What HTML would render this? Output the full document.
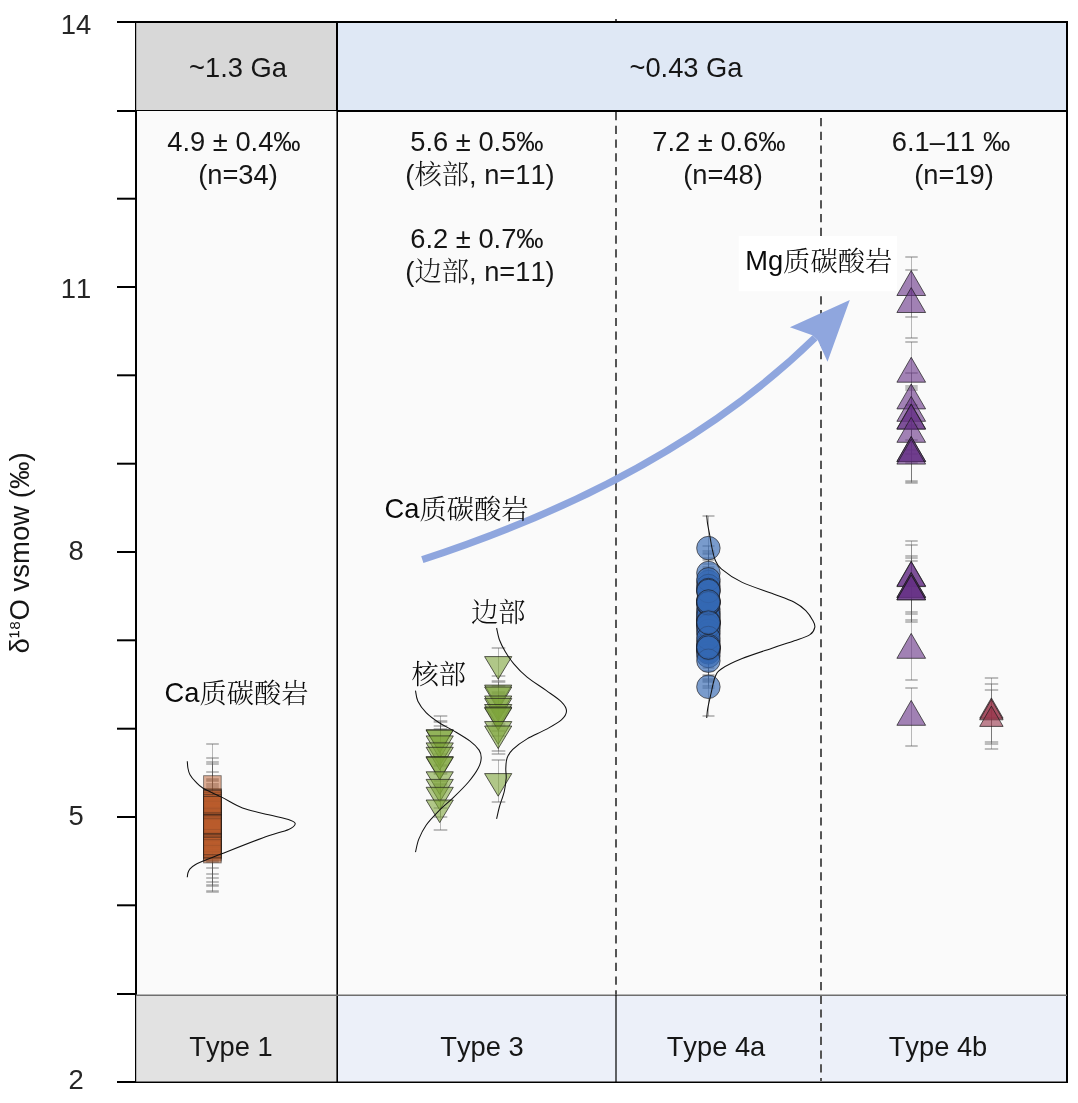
<!DOCTYPE html>
<html lang="zh"><head><meta charset="utf-8"><title>δ18O vsmow</title>
<style>
html,body{margin:0;padding:0;background:#fff;}
body{width:1078px;height:1103px;overflow:hidden;position:relative;}
svg{position:absolute;left:0;top:0;display:block;}
text{font-family:"Liberation Sans","Noto Serif CJK SC",sans-serif;font-kerning:none;}
.cj{font-family:"Noto Serif CJK SC","Liberation Serif",serif;font-weight:300;}
.tk{font-size:27.4px;fill:#262626;}
.lb{font-size:27.3px;fill:#161616;}
.an{font-size:27.3px;fill:#0a0a0a;}
</style></head><body>
<svg width="1078" height="1103" viewBox="0 0 1078 1103">
<rect x="0" y="0" width="1078" height="1103" fill="#ffffff"/>
<rect x="136" y="111" width="931" height="884" fill="#fafafa"/>
<rect x="136" y="22" width="201" height="88.5" fill="#d8d8d8"/>
<rect x="337" y="22" width="730" height="88.5" fill="#dfe8f5"/>
<rect x="136" y="995.5" width="201" height="86" fill="#e2e2e2"/>
<rect x="337" y="995.5" width="730" height="86" fill="#ecf0f9"/>
<g id="dashes" stroke="#555" stroke-width="2" fill="none">
<line x1="616" y1="18.9" x2="616" y2="995" stroke-dasharray="8.2 5.52" stroke-dashoffset="2.86"/>
<line x1="821" y1="118" x2="821" y2="1081" stroke-dasharray="8.2 5.514"/>
</g>
<rect x="337" y="22" width="730" height="88.5" fill="#dfe8f5"/>
<g id="frame" stroke="#000" fill="none">
<line x1="117" y1="22" x2="1068" y2="22" stroke-width="2"/>
<line x1="1067" y1="21" x2="1067" y2="1083" stroke-width="2"/>
<line x1="136" y1="111" x2="136" y2="995" stroke-width="2"/>
<line x1="135.6" y1="22" x2="135.6" y2="111" stroke-width="1.2"/>
<line x1="135.6" y1="995" x2="135.6" y2="1082" stroke-width="1.2"/>
<line x1="337" y1="22" x2="337" y2="111" stroke-width="2"/>
<line x1="337.2" y1="111" x2="337.2" y2="1082" stroke-width="1.6"/>
<line x1="136" y1="110.5" x2="337" y2="110.5" stroke-width="1"/>
<line x1="337" y1="111" x2="1068" y2="111" stroke-width="2"/>
<line x1="136" y1="995.3" x2="1067" y2="995.3" stroke-width="1.5" stroke="#6e6e6e"/>
<line x1="616" y1="995" x2="616" y2="1082" stroke-width="1.2"/>
<line x1="136" y1="1082.2" x2="1068" y2="1082.2" stroke-width="1.6"/>
</g>
<g id="ticks" stroke="#000" stroke-width="2">
<line x1="117" y1="1082" x2="136" y2="1082"/>
<line x1="117" y1="994" x2="136" y2="994"/>
<line x1="117" y1="905.3" x2="136" y2="905.3"/>
<line x1="117" y1="817.0" x2="136" y2="817.0"/>
<line x1="117" y1="728.7" x2="136" y2="728.7"/>
<line x1="117" y1="640.3" x2="136" y2="640.3"/>
<line x1="117" y1="552.0" x2="136" y2="552.0"/>
<line x1="117" y1="463.7" x2="136" y2="463.7"/>
<line x1="117" y1="375.3" x2="136" y2="375.3"/>
<line x1="117" y1="287.0" x2="136" y2="287.0"/>
<line x1="117" y1="198.7" x2="136" y2="198.7"/>
<line x1="117" y1="111" x2="136" y2="111"/>
<line x1="117" y1="22" x2="136" y2="22"/>
</g>
<g id="ticklabels" class="tk" text-anchor="middle">
<text x="76.1" y="33.9">14</text>
<text x="76.1" y="297.7">11</text>
<text x="76.1" y="560.4">8</text>
<text x="76.1" y="825.4">5</text>
<text x="76.1" y="1089">2</text>
</g>
<text class="lb" style="font-size:27.5px" text-anchor="middle" transform="translate(28.5,553) rotate(-90)">δ<tspan style="font-size:23.6px" dy="-2.7">¹⁸</tspan><tspan dy="2.7">O vsmow (‰)</tspan></text>
<g class="lb" text-anchor="middle">
<text x="238" y="76.8">~1.3 Ga</text>
<text x="686" y="76.8">~0.43 Ga</text>
<text x="231" y="1056.3">Type 1</text>
<text x="482" y="1056.3">Type 3</text>
<text x="716" y="1056.3">Type 4a</text>
<text x="938" y="1056.3">Type 4b</text>
<text x="234" y="151.4">4.9 ± 0.4‰</text>
<text x="238" y="183.8">(n=34)</text>
<text x="477" y="151.4">5.6 ± 0.5‰</text>
<text x="480" y="183.8">(<tspan class="cj">核部</tspan>, n=11)</text>
<text x="477" y="248.2">6.2 ± 0.7‰</text>
<text x="480" y="280.6">(<tspan class="cj">边部</tspan>, n=11)</text>
<text x="719" y="151.4">7.2 ± 0.6‰</text>
<text x="723" y="183.8">(n=48)</text>
<text x="951" y="151.4">6.1–11 ‰</text>
<text x="954" y="183.8">(n=19)</text>
</g>
<rect x="738.7" y="236" width="158.3" height="55.2" fill="#ffffff"/>
<g id="type1">
<g stroke="#5a5a5a" fill="none">
<path d="M212.5,744V824M212.5,758V836M212.5,762V835M212.5,764V834M212.5,764V838M212.5,772V834M212.5,779V831M212.5,781V832M212.5,784V833M212.5,780V840M212.5,784V840M212.5,786V840M212.5,786V846M212.5,788V850M212.5,793V851M212.5,795V851M212.5,795V855M212.5,795V857M212.5,798V856M212.5,798V858M212.5,796V860M212.5,798V860M212.5,801V861M212.5,804V862M212.5,802V868M212.5,808V868M212.5,807V874M212.5,812V874M212.5,814V878M212.5,816V882M212.5,814V885M212.5,814V886M212.5,813V891M212.5,816V892" stroke-width="1" stroke-opacity="0.42"/>
<path d="M206.2,744H218.8M206.2,824H218.8M206.2,758H218.8M206.2,836H218.8M206.2,762H218.8M206.2,835H218.8M206.2,764H218.8M206.2,834H218.8M206.2,764H218.8M206.2,838H218.8M206.2,772H218.8M206.2,834H218.8M206.2,779H218.8M206.2,831H218.8M206.2,781H218.8M206.2,832H218.8M206.2,784H218.8M206.2,833H218.8M206.2,780H218.8M206.2,840H218.8M206.2,784H218.8M206.2,840H218.8M206.2,786H218.8M206.2,840H218.8M206.2,786H218.8M206.2,846H218.8M206.2,788H218.8M206.2,850H218.8M206.2,793H218.8M206.2,851H218.8M206.2,795H218.8M206.2,851H218.8M206.2,795H218.8M206.2,855H218.8M206.2,795H218.8M206.2,857H218.8M206.2,798H218.8M206.2,856H218.8M206.2,798H218.8M206.2,858H218.8M206.2,796H218.8M206.2,860H218.8M206.2,798H218.8M206.2,860H218.8M206.2,801H218.8M206.2,861H218.8M206.2,804H218.8M206.2,862H218.8M206.2,802H218.8M206.2,868H218.8M206.2,808H218.8M206.2,868H218.8M206.2,807H218.8M206.2,874H218.8M206.2,812H218.8M206.2,874H218.8M206.2,814H218.8M206.2,878H218.8M206.2,816H218.8M206.2,882H218.8M206.2,814H218.8M206.2,885H218.8M206.2,814H218.8M206.2,886H218.8M206.2,813H218.8M206.2,891H218.8M206.2,816H218.8M206.2,892H218.8" stroke-width="1.5" stroke-opacity="0.50"/>
</g>
<g fill="#ba5b2c" fill-opacity="0.5" stroke="#1a1a1a" stroke-opacity="0.55" stroke-width="0.9">
<rect x="203.6" y="820.5" width="17.6" height="17.6"/>
<rect x="203.6" y="809.7" width="17.6" height="17.6"/>
<rect x="203.6" y="823.7" width="17.6" height="17.6"/>
<rect x="203.6" y="788.7" width="17.6" height="17.6"/>
<rect x="203.6" y="826.2" width="17.6" height="17.6"/>
<rect x="203.6" y="841.5" width="17.6" height="17.6"/>
<rect x="203.6" y="821.8" width="17.6" height="17.6"/>
<rect x="203.6" y="798.0" width="17.6" height="17.6"/>
<rect x="203.6" y="843.4" width="17.6" height="17.6"/>
<rect x="203.6" y="817.4" width="17.6" height="17.6"/>
<rect x="203.6" y="775.7" width="17.6" height="17.6"/>
<rect x="203.6" y="802.9" width="17.6" height="17.6"/>
<rect x="203.6" y="804.5" width="17.6" height="17.6"/>
<rect x="203.6" y="807.2" width="17.6" height="17.6"/>
<rect x="203.6" y="799.7" width="17.6" height="17.6"/>
<rect x="203.6" y="789.4" width="17.6" height="17.6"/>
<rect x="203.6" y="792.2" width="17.6" height="17.6"/>
<rect x="203.6" y="801.2" width="17.6" height="17.6"/>
<rect x="203.6" y="812.8" width="17.6" height="17.6"/>
<rect x="203.6" y="790.6" width="17.6" height="17.6"/>
<rect x="203.6" y="832.0" width="17.6" height="17.6"/>
<rect x="203.6" y="819.0" width="17.6" height="17.6"/>
<rect x="203.6" y="819.6" width="17.6" height="17.6"/>
<rect x="203.6" y="814.6" width="17.6" height="17.6"/>
<rect x="203.6" y="840.8" width="17.6" height="17.6"/>
<rect x="203.6" y="829.4" width="17.6" height="17.6"/>
<rect x="203.6" y="794.7" width="17.6" height="17.6"/>
<rect x="203.6" y="796.5" width="17.6" height="17.6"/>
<rect x="203.6" y="818.2" width="17.6" height="17.6"/>
<rect x="203.6" y="834.3" width="17.6" height="17.6"/>
<rect x="203.6" y="815.8" width="17.6" height="17.6"/>
<rect x="203.6" y="845.3" width="17.6" height="17.6"/>
<rect x="203.6" y="839.7" width="17.6" height="17.6"/>
<rect x="203.6" y="837.2" width="17.6" height="17.6"/>
</g>
<path d="M187.3,761.3 C187.4,762.4 187.5,765.8 187.9,768.0 C188.3,770.2 188.7,772.4 190.0,774.7 C191.3,777.0 193.3,779.4 195.5,781.7 C197.7,784.0 198.8,785.7 203.1,788.3 C207.4,790.9 215.0,793.8 221.6,797.1 C228.2,800.4 234.7,805.0 242.5,807.9 C250.3,810.8 260.7,812.8 268.7,814.8 C276.7,816.8 285.9,818.7 290.3,820.2 C294.7,821.7 295.5,822.5 295.2,824.0 C294.9,825.5 294.1,827.1 288.7,829.4 C283.2,831.7 273.7,833.8 262.5,837.9 C251.3,842.0 231.5,849.9 221.6,853.8 C211.7,857.7 207.5,859.3 203.1,861.1 C198.7,862.9 197.4,863.5 195.2,864.8 C193.0,866.1 191.2,867.4 190.0,868.8 C188.8,870.2 188.3,871.6 187.9,873.0 C187.5,874.4 187.4,876.5 187.3,877.2" fill="none" stroke="#111" stroke-width="1.05"/>
</g>
<g id="type3core">
<g stroke="#5a5a5a" fill="none">
<path d="M440.5,716V758M440.5,722V754M440.5,721V765M440.5,726V774M440.5,729V781M440.5,744V784M440.5,742V788M440.5,757V801M440.5,766V808M440.5,773V817M440.5,785V830" stroke-width="1" stroke-opacity="0.42"/>
<path d="M433.7,716H447.3M433.7,758H447.3M433.7,722H447.3M433.7,754H447.3M433.7,721H447.3M433.7,765H447.3M433.7,726H447.3M433.7,774H447.3M433.7,729H447.3M433.7,781H447.3M433.7,744H447.3M433.7,784H447.3M433.7,742H447.3M433.7,788H447.3M433.7,757H447.3M433.7,801H447.3M433.7,766H447.3M433.7,808H447.3M433.7,773H447.3M433.7,817H447.3M433.7,785H447.3M433.7,830H447.3" stroke-width="1.5" stroke-opacity="0.50"/>
</g>
<g fill="#7fa53c" fill-opacity="0.6" stroke="#20201a" stroke-opacity="0.72" stroke-width="1">
<path d="M426.1,729.8H453.3L439.7,752.4Z"/>
<path d="M426.1,730.1H453.3L439.7,752.7Z"/>
<path d="M426.1,735.9H453.3L439.7,758.5Z"/>
<path d="M426.1,742.9H453.3L439.7,765.5Z"/>
<path d="M426.1,747.3H453.3L439.7,769.9Z"/>
<path d="M426.1,756.6H453.3L439.7,779.2Z"/>
<path d="M426.1,757.3H453.3L439.7,779.9Z"/>
<path d="M426.1,771.8H453.3L439.7,794.4Z"/>
<path d="M426.1,779.4H453.3L439.7,802.0Z"/>
<path d="M426.1,787.3H453.3L439.7,809.9Z"/>
<path d="M426.1,800.0H453.3L439.7,822.6Z"/>
</g>
<path d="M415.5,690.6 C415.9,692.4 416.1,697.5 417.9,701.2 C419.7,704.9 422.6,709.0 426.1,712.6 C429.7,716.2 434.6,719.7 439.2,722.7 C443.8,725.8 448.6,727.8 453.8,730.9 C459.0,734.0 465.9,738.0 470.1,741.2 C474.3,744.4 477.2,747.3 479.1,750.1 C481.0,752.9 481.3,755.0 481.2,758.0 C481.1,761.0 480.4,764.1 478.3,768.1 C476.2,772.1 472.6,777.2 468.5,782.0 C464.4,786.8 458.7,792.4 453.8,797.1 C448.9,801.9 443.8,805.8 439.2,810.5 C434.6,815.2 429.5,820.4 426.1,825.2 C422.7,830.0 420.6,834.6 418.8,839.1 C417.0,843.6 416.1,849.9 415.5,852.1" fill="none" stroke="#111" stroke-width="1.05"/>
</g>
<g id="type3rim">
<g stroke="#5a5a5a" fill="none">
<path d="M498.5,648V681M498.5,676V710M498.5,682V706M498.5,682V724M498.5,686V726M498.5,693V731M498.5,692V736M498.5,694V736M498.5,707V751M498.5,712V754M498.5,760V802" stroke-width="1" stroke-opacity="0.42"/>
<path d="M491.7,648H505.3M491.7,681H505.3M491.7,676H505.3M491.7,710H505.3M491.7,682H505.3M491.7,706H505.3M491.7,682H505.3M491.7,724H505.3M491.7,686H505.3M491.7,726H505.3M491.7,693H505.3M491.7,731H505.3M491.7,692H505.3M491.7,736H505.3M491.7,694H505.3M491.7,736H505.3M491.7,707H505.3M491.7,751H505.3M491.7,712H505.3M491.7,754H505.3M491.7,760H505.3M491.7,802H505.3" stroke-width="1.5" stroke-opacity="0.50"/>
</g>
<g fill="#7fa53c" fill-opacity="0.6" stroke="#20201a" stroke-opacity="0.72" stroke-width="1">
<path d="M484.6,656.6H511.8L498.2,679.2Z"/>
<path d="M484.6,685.1H511.8L498.2,707.7Z"/>
<path d="M484.6,687.0H511.8L498.2,709.6Z"/>
<path d="M484.6,696.0H511.8L498.2,718.6Z"/>
<path d="M484.6,698.4H511.8L498.2,721.0Z"/>
<path d="M484.6,704.5H511.8L498.2,727.1Z"/>
<path d="M484.6,707.0H511.8L498.2,729.6Z"/>
<path d="M484.6,707.9H511.8L498.2,730.5Z"/>
<path d="M484.6,721.6H511.8L498.2,744.2Z"/>
<path d="M484.6,726.0H511.8L498.2,748.6Z"/>
<path d="M484.6,773.6H511.8L498.2,796.2Z"/>
</g>
<path d="M496.6,628.0 C497.1,630.0 498.1,636.1 499.5,640.0 C500.9,643.9 502.8,647.4 505.2,651.4 C507.6,655.4 510.1,659.5 513.8,663.8 C517.4,668.1 521.7,672.7 527.1,677.1 C532.5,681.5 540.4,686.3 546.1,690.4 C551.8,694.5 558.0,698.4 561.4,701.8 C564.8,705.2 566.5,708.0 566.5,711.0 C566.5,714.0 564.8,716.8 561.4,719.9 C558.0,723.0 551.8,726.2 546.1,729.4 C540.4,732.6 532.7,735.6 527.1,738.9 C521.5,742.2 516.1,746.2 512.8,749.4 C509.5,752.6 508.3,754.8 507.1,758.0 C505.9,761.2 506.0,765.1 505.8,768.4 C505.6,771.7 506.4,774.2 506.2,778.0 C505.9,781.8 505.4,786.5 504.3,791.3 C503.2,796.0 500.8,801.9 499.5,806.5 C498.2,811.1 497.1,816.8 496.6,818.9" fill="none" stroke="#111" stroke-width="1.05"/>
</g>
<g id="type4a">
<g stroke="#5a5a5a" fill="none">
<path d="M708.5,595V649M708.5,571V631M708.5,576V642M708.5,554V610M708.5,588V652M708.5,587V641M708.5,621V681M708.5,567V633M708.5,560V617M708.5,618V680M708.5,595V649M708.5,622V682M708.5,569V635M708.5,590V646M708.5,560V624M708.5,546V600M708.5,582V642M708.5,553V619M708.5,551V608M708.5,616V679M708.5,601V655M708.5,611V671M708.5,590V656M708.5,596V652M708.5,558V622M708.5,621V675M708.5,593V653M708.5,583V649M708.5,606V662M708.5,600V662M708.5,617V671M708.5,573V633M708.5,571V637M708.5,620V676M708.5,516V578M708.5,657V716M708.5,626V686M708.5,593V659M708.5,618V676M708.5,590V653M708.5,564V618M708.5,608V668M708.5,613V679M708.5,575V632M708.5,570V633M708.5,634V688M708.5,593V653M708.5,615V681" stroke-width="1" stroke-opacity="0.42"/>
<path d="M702.5,595H714.5M702.5,649H714.5M702.5,571H714.5M702.5,631H714.5M702.5,576H714.5M702.5,642H714.5M702.5,554H714.5M702.5,610H714.5M702.5,588H714.5M702.5,652H714.5M702.5,587H714.5M702.5,641H714.5M702.5,621H714.5M702.5,681H714.5M702.5,567H714.5M702.5,633H714.5M702.5,560H714.5M702.5,617H714.5M702.5,618H714.5M702.5,680H714.5M702.5,595H714.5M702.5,649H714.5M702.5,622H714.5M702.5,682H714.5M702.5,569H714.5M702.5,635H714.5M702.5,590H714.5M702.5,646H714.5M702.5,560H714.5M702.5,624H714.5M702.5,546H714.5M702.5,600H714.5M702.5,582H714.5M702.5,642H714.5M702.5,553H714.5M702.5,619H714.5M702.5,551H714.5M702.5,608H714.5M702.5,616H714.5M702.5,679H714.5M702.5,601H714.5M702.5,655H714.5M702.5,611H714.5M702.5,671H714.5M702.5,590H714.5M702.5,656H714.5M702.5,596H714.5M702.5,652H714.5M702.5,558H714.5M702.5,622H714.5M702.5,621H714.5M702.5,675H714.5M702.5,593H714.5M702.5,653H714.5M702.5,583H714.5M702.5,649H714.5M702.5,606H714.5M702.5,662H714.5M702.5,600H714.5M702.5,662H714.5M702.5,617H714.5M702.5,671H714.5M702.5,573H714.5M702.5,633H714.5M702.5,571H714.5M702.5,637H714.5M702.5,620H714.5M702.5,676H714.5M702.5,516H714.5M702.5,578H714.5M702.5,657H714.5M702.5,716H714.5M702.5,626H714.5M702.5,686H714.5M702.5,593H714.5M702.5,659H714.5M702.5,618H714.5M702.5,676H714.5M702.5,590H714.5M702.5,653H714.5M702.5,564H714.5M702.5,618H714.5M702.5,608H714.5M702.5,668H714.5M702.5,613H714.5M702.5,679H714.5M702.5,575H714.5M702.5,632H714.5M702.5,570H714.5M702.5,633H714.5M702.5,634H714.5M702.5,688H714.5M702.5,593H714.5M702.5,653H714.5M702.5,615H714.5M702.5,681H714.5" stroke-width="1.5" stroke-opacity="0.50"/>
</g>
<g fill="#3468b4" fill-opacity="0.65" stroke="#1a1410" stroke-opacity="0.6" stroke-width="1">
<circle cx="708.4" cy="622.3" r="11.75"/>
<circle cx="708.4" cy="600.8" r="11.75"/>
<circle cx="708.4" cy="609" r="11.75"/>
<circle cx="708.4" cy="582" r="11.75"/>
<circle cx="708.4" cy="620" r="11.75"/>
<circle cx="708.4" cy="614" r="11.75"/>
<circle cx="708.4" cy="651" r="11.75"/>
<circle cx="708.4" cy="600.2" r="11.75"/>
<circle cx="708.4" cy="588.5" r="11.75"/>
<circle cx="708.4" cy="649" r="11.75"/>
<circle cx="708.4" cy="622" r="11.75"/>
<circle cx="708.4" cy="652.4" r="11.75"/>
<circle cx="708.4" cy="602" r="11.75"/>
<circle cx="708.4" cy="618" r="11.75"/>
<circle cx="708.4" cy="592" r="11.75"/>
<circle cx="708.4" cy="573" r="11.75"/>
<circle cx="708.4" cy="612" r="11.75"/>
<circle cx="708.4" cy="586" r="11.75"/>
<circle cx="708.4" cy="579.3" r="11.75"/>
<circle cx="708.4" cy="647.3" r="11.75"/>
<circle cx="708.4" cy="628" r="11.75"/>
<circle cx="708.4" cy="641" r="11.75"/>
<circle cx="708.4" cy="623.4" r="11.75"/>
<circle cx="708.4" cy="624" r="11.75"/>
<circle cx="708.4" cy="590" r="11.75"/>
<circle cx="708.4" cy="648.4" r="11.75"/>
<circle cx="708.4" cy="623" r="11.75"/>
<circle cx="708.4" cy="616" r="11.75"/>
<circle cx="708.4" cy="634" r="11.75"/>
<circle cx="708.4" cy="631" r="11.75"/>
<circle cx="708.4" cy="644" r="11.75"/>
<circle cx="708.4" cy="602.6" r="11.75"/>
<circle cx="708.4" cy="604" r="11.75"/>
<circle cx="708.4" cy="648" r="11.75"/>
<circle cx="708.4" cy="548.1" r="11.75"/>
<circle cx="708.4" cy="686.8" r="11.75"/>
<circle cx="708.4" cy="656" r="11.75"/>
<circle cx="708.4" cy="626" r="11.75"/>
<circle cx="708.4" cy="647" r="11.75"/>
<circle cx="708.4" cy="621.5" r="11.75"/>
<circle cx="708.4" cy="591" r="11.75"/>
<circle cx="708.4" cy="638" r="11.75"/>
<circle cx="708.4" cy="646" r="11.75"/>
<circle cx="708.4" cy="603.2" r="11.75"/>
<circle cx="708.4" cy="601.5" r="11.75"/>
<circle cx="708.4" cy="660.7" r="11.75"/>
<circle cx="708.4" cy="622.6" r="11.75"/>
<circle cx="708.4" cy="647.6" r="11.75"/>
</g>
<path d="M706.7,515.5 C706.9,516.9 707.1,520.7 707.6,524.0 C708.1,527.3 709.1,531.5 709.8,535.5 C710.5,539.5 711.1,544.0 712.0,548.0 C712.9,552.0 713.5,556.0 715.0,559.5 C716.5,563.0 716.8,565.0 721.3,568.8 C725.8,572.6 733.5,578.2 742.2,582.4 C750.9,586.6 764.8,590.6 773.5,593.9 C782.2,597.2 788.9,599.4 794.3,602.2 C799.7,605.0 802.7,607.5 805.8,610.6 C808.9,613.7 811.6,618.2 813.1,621.0 C814.6,623.8 815.3,625.0 814.8,627.3 C814.3,629.6 813.4,632.4 810.0,634.6 C806.6,636.9 800.4,638.6 794.3,640.8 C788.2,643.0 782.2,644.7 773.5,647.7 C764.8,650.7 750.9,655.1 742.2,658.6 C733.5,662.1 725.8,665.9 721.3,669.0 C716.8,672.1 716.7,673.1 715.0,677.3 C713.3,681.5 712.1,688.8 710.9,694.0 C709.7,699.2 708.4,704.6 707.7,708.6 C707.0,712.6 706.9,716.4 706.7,718.0" fill="none" stroke="#111" stroke-width="1.05"/>
</g>
<g id="type4b">
<g stroke="#5a5a5a" fill="none">
<path d="M911.5,257V317M911.5,270V338M911.5,342V405M911.5,373V429M911.5,386V440M911.5,390V450M911.5,388V454M911.5,405V463M911.5,425V482M911.5,426V481M911.5,428V483M911.5,541V614M911.5,545V612M911.5,556V622M911.5,558V620M911.5,561V622M911.5,561V622M911.5,620V680M911.5,688V746" stroke-width="1" stroke-opacity="0.42"/>
<path d="M905.3,257H917.7M905.3,317H917.7M905.3,270H917.7M905.3,338H917.7M905.3,342H917.7M905.3,405H917.7M905.3,373H917.7M905.3,429H917.7M905.3,386H917.7M905.3,440H917.7M905.3,390H917.7M905.3,450H917.7M905.3,388H917.7M905.3,454H917.7M905.3,405H917.7M905.3,463H917.7M905.3,425H917.7M905.3,482H917.7M905.3,426H917.7M905.3,481H917.7M905.3,428H917.7M905.3,483H917.7M905.3,541H917.7M905.3,614H917.7M905.3,545H917.7M905.3,612H917.7M905.3,556H917.7M905.3,622H917.7M905.3,558H917.7M905.3,620H917.7M905.3,561H917.7M905.3,622H917.7M905.3,561H917.7M905.3,622H917.7M905.3,620H917.7M905.3,680H917.7M905.3,688H917.7M905.3,746H917.7" stroke-width="1.5" stroke-opacity="0.50"/>
</g>
<g fill="#663085" fill-opacity="0.6" stroke="#1a1a1a" stroke-opacity="0.7" stroke-width="1">
<path d="M896.9,295.5H925.6L911.2,270.6Z"/>
<path d="M896.9,312.5H925.6L911.2,287.6Z"/>
<path d="M896.9,382.2H925.6L911.2,357.3Z"/>
<path d="M896.9,408.9H925.6L911.2,384.0Z"/>
<path d="M896.9,421.3H925.6L911.2,396.4Z"/>
<path d="M896.9,428.8H925.6L911.2,403.9Z"/>
<path d="M896.9,429.2H925.6L911.2,404.3Z"/>
<path d="M896.9,442.3H925.6L911.2,417.4Z"/>
<path d="M896.9,461.4H925.6L911.2,436.5Z"/>
<path d="M896.9,461.6H925.6L911.2,436.7Z"/>
<path d="M896.9,464.1H925.6L911.2,439.2Z"/>
<path d="M896.9,586.1H925.6L911.2,561.2Z"/>
<path d="M896.9,586.6H925.6L911.2,561.7Z"/>
<path d="M896.9,597.3H925.6L911.2,572.4Z"/>
<path d="M896.9,597.7H925.6L911.2,572.8Z"/>
<path d="M896.9,599.7H925.6L911.2,574.8Z"/>
<path d="M896.9,599.9H925.6L911.2,575.0Z"/>
<path d="M896.9,658.3H925.6L911.2,633.4Z"/>
<path d="M896.9,725.3H925.6L911.2,700.4Z"/>
</g>
<g stroke="#5a5a5a" fill="none">
<path d="M991.5,678V742M991.5,684V744M991.5,690V749" stroke-width="1" stroke-opacity="0.42"/>
<path d="M984.8,678H998.2M984.8,742H998.2M984.8,684H998.2M984.8,744H998.2M984.8,690H998.2M984.8,749H998.2" stroke-width="1.5" stroke-opacity="0.50"/>
</g>
<g fill="#963248" fill-opacity="0.6" stroke="#1a1a1a" stroke-opacity="0.7" stroke-width="1">
<path d="M979.7,718.2H1003.1L991.4,697.9Z"/>
<path d="M979.7,719.8H1003.1L991.4,699.5Z"/>
<path d="M979.7,726.4H1003.1L991.4,706.1Z"/>
</g>
</g>
<g id="arrow">
<path d="M422.3,559.7 Q670.8,478.6 815,337.7" fill="none" stroke="#8fa6de" stroke-width="7.2"/>
<polygon points="849.8,299.9 789.9,327.3 812.4,335.2 817.8,340.3 827.5,361.8" fill="#8fa6de"/>
</g>
<g class="an">
<text x="745.2" y="270.4">Mg<tspan class="cj" dy="0.9">质碳酸岩</tspan></text>
<text x="384.5" y="518.4">Ca<tspan class="cj" dy="0.9">质碳酸岩</tspan></text>
<text x="164.5" y="702.1">Ca<tspan class="cj" dy="0.9">质碳酸岩</tspan></text>
<text x="471" y="622" class="cj">边部</text>
<text x="411.5" y="683.7" class="cj">核部</text>
</g>
</svg></body></html>
